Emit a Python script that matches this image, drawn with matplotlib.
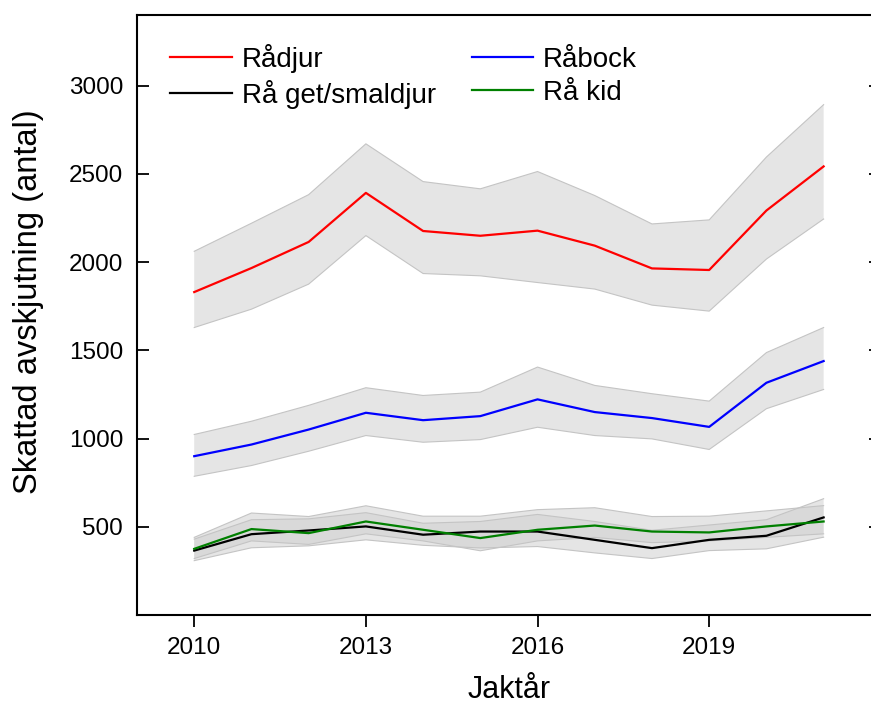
import numpy as np
import matplotlib
matplotlib.use('Agg')
import matplotlib.pyplot as plt

plt.rcParams['font.family'] = ['Liberation Sans', 'DejaVu Sans']

years = np.arange(2010, 2022)

# Rådjur
radjur = [1830, 1966, 2114, 2392, 2176, 2149, 2178, 2093, 1964, 1955, 2292, 2542]
radjur_lo = [1629, 1733, 1875, 2150, 1935, 1922, 1884, 1847, 1756, 1722, 2017, 2244]
radjur_hi = [2061, 2220, 2382, 2670, 2456, 2415, 2513, 2377, 2216, 2239, 2595, 2892]

# Råbock
rabock = [900, 966, 1051, 1146, 1104, 1127, 1222, 1150, 1116, 1066, 1316, 1439]
rabock_lo = [786, 847, 928, 1017, 979, 994, 1064, 1017, 998, 938, 1169, 1278]
rabock_hi = [1023, 1098, 1188, 1288, 1244, 1263, 1405, 1301, 1254, 1212, 1487, 1629]

# Rå get/smaldjur
get = [365, 458, 479, 502, 455, 473, 473, 426, 379, 426, 449, 553]
get_lo = [308, 381, 392, 426, 395, 380, 388, 352, 320, 365, 375, 441]
get_hi = [430, 540, 545, 580, 520, 530, 570, 530, 480, 510, 540, 659]

# Rå kid
kid = [375, 487, 464, 530, 483, 436, 483, 507, 473, 468, 502, 530]
kid_lo = [320, 420, 400, 460, 420, 364, 420, 440, 410, 420, 440, 460]
kid_hi = [440, 578, 558, 619, 560, 560, 597, 608, 558, 560, 590, 620]

series = [
    ('Rådjur', radjur, radjur_lo, radjur_hi, '#ff0000'),
    ('Råbock', rabock, rabock_lo, rabock_hi, '#0000ff'),
    ('Rå get/smaldjur', get, get_lo, get_hi, '#000000'),
    ('Rå kid', kid, kid_lo, kid_hi, '#008000'),
]

fig = plt.figure(figsize=(8.71, 7.04), dpi=100)
ax = fig.add_axes([0.1573, 0.1264, 0.854, 0.8523])

# bands first, lines on top
for name, mid, lo, hi, col in series:
    ax.fill_between(years, lo, hi, facecolor='#d0d0d0', alpha=0.55,
                    edgecolor='none', zorder=1)
    ax.plot(years, lo, color='#c4c4c4', lw=0.8, zorder=2)
    ax.plot(years, hi, color='#c4c4c4', lw=0.8, zorder=2)

handles = {}
for name, mid, lo, hi, col in series:
    h, = ax.plot(years, mid, color=col, lw=1.6, zorder=3, label=name)
    handles[name] = h

order = ['Rådjur', 'Rå get/smaldjur', 'Råbock', 'Rå kid']
ax.legend([handles[n] for n in order], order, ncol=2, frameon=False,
          fontsize=20, loc='upper left', bbox_to_anchor=(0.045, 0.952),
          handlelength=2.2, handletextpad=0.36, columnspacing=1.3,
          labelspacing=0.26, borderaxespad=0.0, borderpad=0.0)

ax.set_xlim(2009, 2022)
ax.set_ylim(0, 3400)
ax.set_xticks([2010, 2013, 2016, 2019])
ax.set_yticks([500, 1000, 1500, 2000, 2500, 3000])

ax.tick_params(axis='y', direction='in', length=8.5, width=1.3,
               labelsize=17.5, pad=10, right=True)
ax.tick_params(axis='x', direction='out', length=8.5, width=1.3,
               labelsize=17.5, pad=7)

for s in ax.spines.values():
    s.set_linewidth(1.5)

ax.set_xlabel('Jaktår', fontsize=22, labelpad=12)
ax.set_ylabel('Skattad avskjutning (antal)', fontsize=23.5, labelpad=18)
ax.yaxis.label.set_y(0.522)

plt.savefig('out.png', dpi=100)
plt.close()
